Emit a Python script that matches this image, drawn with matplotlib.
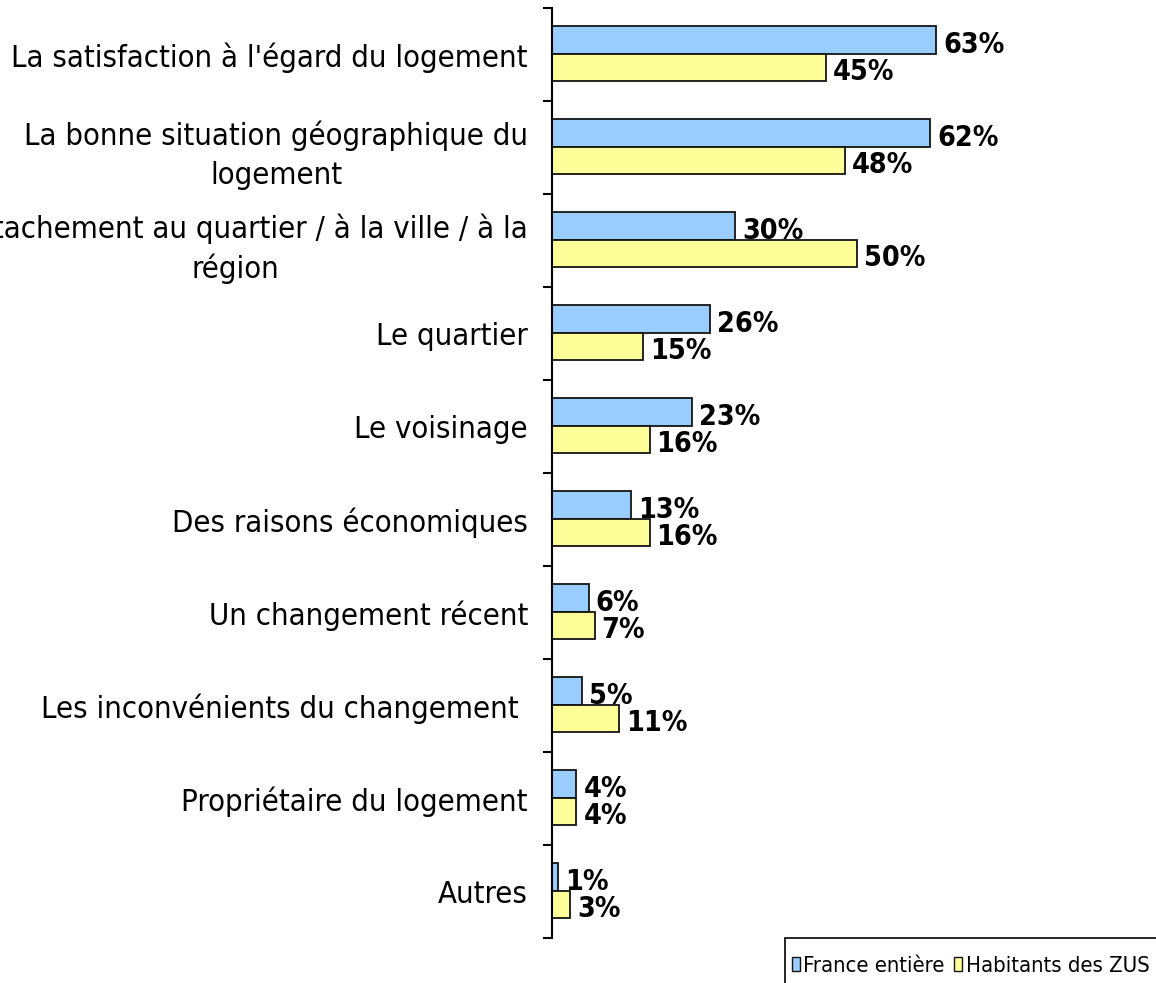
import matplotlib
matplotlib.use("Agg")
import matplotlib.pyplot as plt
import numpy as np
from matplotlib.patches import Patch, Rectangle

categories = [
    "La satisfaction à l'égard du logement",
    "La bonne situation géographique du\nlogement",
    "L'attachement au quartier / à la ville / à la\nrégion",
    "Le quartier",
    "Le voisinage",
    "Des raisons économiques",
    "Un changement récent",
    "Les inconvénients du changement ",
    "Propriétaire du logement",
    "Autres",
]
france = [63, 62, 30, 26, 23, 13, 6, 5, 4, 1]
zus = [45, 48, 50, 15, 16, 16, 7, 11, 4, 3]
series_names = ["France entière", "Habitants des ZUS"]
colors = ["#99CCFF", "#FFFF99"]

FONT = dict(family="DejaVu Sans", stretch="condensed")
EDGE = "#141414"

W, H = 1156, 983
fig = plt.figure(figsize=(W / 100, H / 100), dpi=100)
ax_left, ax_right, ax_top, ax_bot = 552, 1156, 8, 938
ax = fig.add_axes([ax_left / W, 1 - ax_bot / H, (ax_right - ax_left) / W, (ax_bot - ax_top) / H])

px_per_pct = (936 - 552) / 63.0
ax.set_xlim(0, (ax_right - ax_left) / px_per_pct)
n = len(categories)
ax.set_ylim(n - 0.5, -0.5)

y = np.arange(n)
bh = 0.30
ax.barh(y - 0.31, france, height=bh, align="edge", color=colors[0], edgecolor=EDGE, linewidth=1.3)
ax.barh(y - 0.01, zus, height=bh, align="edge", color=colors[1], edgecolor=EDGE, linewidth=1.3)

for i in range(n):
    ax.annotate(f"{france[i]}%", (france[i], y[i] - 0.16), xytext=(7, -5), textcoords="offset pixels",
                ha="left", va="center", fontsize=20.5, fontweight="bold", **FONT)
    ax.annotate(f"{zus[i]}%", (zus[i], y[i] + 0.14), xytext=(7, -4), textcoords="offset pixels",
                ha="left", va="center", fontsize=20.5, fontweight="bold", **FONT)

for s in ["top", "right", "bottom"]:
    ax.spines[s].set_visible(False)
ax.spines["left"].set_linewidth(1.5)
ax.set_xticks([])
ax.set_yticks(y)
ax.set_yticklabels(categories, fontsize=22.2, multialignment="center", linespacing=1.42, **FONT)
ax.tick_params(axis="y", which="major", length=0, pad=17.3)
ax.set_yticks(np.arange(n + 1) - 0.5, minor=True)
ax.tick_params(axis="y", which="minor", length=6.5, width=1.5, direction="out")

# legend frame (runs past the figure's right and bottom edges, as in the original)
fig.patches.append(Rectangle((785 / W, 1 - 1010 / H), 500 / W, 72 / H, transform=fig.transFigure,
                             facecolor="white", edgecolor="black", linewidth=1.2))
handles = [Patch(facecolor=colors[0], edgecolor=EDGE, linewidth=1.0),
           Patch(facecolor=colors[1], edgecolor=EDGE, linewidth=1.0)]
leg = fig.legend(handles, series_names, loc="center left", bbox_to_anchor=(792 / W, 1 - 966 / H),
                 ncol=2, frameon=False, borderpad=0.0, handlelength=0.36, handleheight=0.6,
                 handletextpad=0.15, columnspacing=0.45, borderaxespad=0,
                 prop=dict(size=15.8, **FONT))

fig.savefig("out.png", dpi=100)
